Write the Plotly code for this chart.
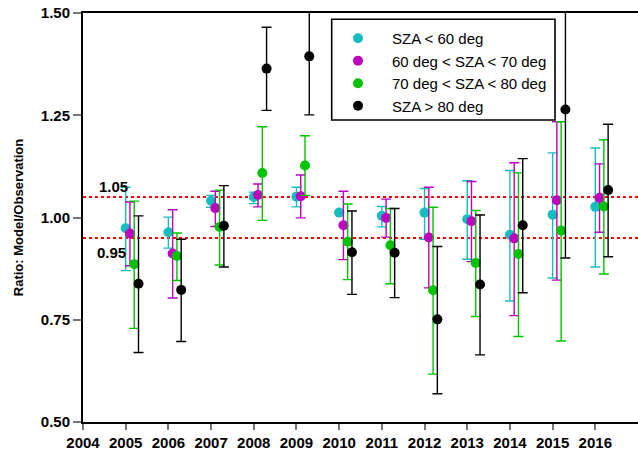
import plotly.graph_objects as go

years = [2005, 2006, 2007, 2008, 2009, 2010, 2011, 2012, 2013, 2014, 2015, 2016]
x_ticks = [2004, 2005, 2006, 2007, 2008, 2009, 2010, 2011, 2012, 2013, 2014, 2015, 2016]
y_ticks = [0.50, 0.75, 1.00, 1.25, 1.50]
y_tick_labels = ["0.50", "0.75", "1.00", "1.25", "1.50"]
ref_levels = [1.05, 0.95]
ref_labels = ["1.05", "0.95"]

names = ["SZA < 60 deg", "60 deg < SZA < 70 deg", "70 deg < SZA < 80 deg", "SZA > 80 deg"]
colors = ["#14BEBE", "#C000C0", "#00C400", "#000000"]
offsets = [0.0, 0.1, 0.2, 0.3]

cyan_val = [0.974, 0.964, 1.041, 1.050, 1.051, 1.012, 1.004, 1.012, 0.996, 0.958, 1.007, 1.026]
cyan_hi = [1.074, 1.001, 1.054, 1.062, 1.074, 1.012, 1.027, 1.071, 1.090, 1.115, 1.158, 1.170]
cyan_lo = [0.870, 0.925, 1.025, 1.034, 1.026, 1.012, 0.977, 0.947, 0.898, 0.796, 0.852, 0.879]

magenta_val = [0.961, 0.912, 1.023, 1.055, 1.052, 0.981, 0.999, 0.951, 0.991, 0.949, 1.042, 1.048]
magenta_hi = [1.038, 1.019, 1.064, 1.082, 1.104, 1.064, 1.045, 1.074, 1.088, 1.134, 1.234, 1.131]
magenta_lo = [0.882, 0.803, 0.978, 1.026, 0.999, 0.897, 0.952, 0.828, 0.892, 0.760, 0.847, 0.964]

green_val = [0.886, 0.906, 0.977, 1.109, 1.127, 0.941, 0.932, 0.822, 0.889, 0.911, 0.968, 1.027]
green_hi = [1.040, 0.962, 1.067, 1.222, 1.200, 1.033, 1.022, 1.025, 1.017, 1.109, 1.234, 1.190]
green_lo = [0.729, 0.846, 0.884, 0.993, 1.054, 0.848, 0.838, 0.617, 0.758, 0.709, 0.698, 0.862]

black_val = [0.838, 0.823, 0.980, 1.364, 1.394, 0.915, 0.914, 0.751, 0.836, 0.981, 1.264, 1.067]
black_hi = [1.004, 0.947, 1.078, 1.465, 1.537, 1.016, 1.022, 0.929, 1.006, 1.144, 1.627, 1.228]
black_lo = [0.670, 0.697, 0.879, 1.262, 1.251, 0.812, 0.804, 0.569, 0.664, 0.816, 0.901, 0.904]

series = [
    (cyan_val, cyan_hi, cyan_lo),
    (magenta_val, magenta_hi, magenta_lo),
    (green_val, green_hi, green_lo),
    (black_val, black_hi, black_lo),
]

FONT = "Liberation Sans, Arial, sans-serif"

fig = go.Figure()
for (val, hi, lo), name, col, off in zip(series, names, colors, offsets):
    fig.add_trace(go.Scatter(
        x=[y + off for y in years],
        y=val,
        mode="markers",
        name=name,
        marker=dict(color=col, size=10, line=dict(width=0)),
        error_y=dict(
            type="data", symmetric=False,
            array=[h - v for h, v in zip(hi, val)],
            arrayminus=[v - l for v, l in zip(val, lo)],
            color=col, thickness=1.4, width=5,
        ),
    ))

shapes = []
for lev in ref_levels:
    shapes.append(dict(type="line", xref="paper", x0=0, x1=1, yref="y", y0=lev, y1=lev,
                       line=dict(color="#FF0000", width=2, dash="dot"), layer="below"))
# legend frame
shapes.append(dict(type="rect", xref="paper", yref="paper",
                   x0=(331.7 - 83) / 555, x1=(555 - 83) / 555,
                   y0=1 - (120 - 13) / 409, y1=1 - (19.3 - 13) / 409,
                   line=dict(color="black", width=1.6), fillcolor="white", layer="above"))

annotations = [
    dict(x=(97 - 83) / 555, xref="paper", y=ref_levels[0], yref="y", text="<b>" + ref_labels[0] + "</b>",
         showarrow=False, xanchor="left", yanchor="middle", yshift=11,
         font=dict(family=FONT, size=15, color="black")),
    dict(x=(95 - 83) / 555, xref="paper", y=ref_levels[1], yref="y", text="<b>" + ref_labels[1] + "</b>",
         showarrow=False, xanchor="left", yanchor="middle", yshift=-15,
         font=dict(family=FONT, size=15, color="black")),
]

fig.update_layout(
    width=638, height=463,
    margin=dict(l=83, r=0, t=13, b=41),
    paper_bgcolor="white", plot_bgcolor="white",
    font=dict(family=FONT, color="black"),
    shapes=shapes,
    annotations=annotations,
    showlegend=True,
    legend=dict(
        x=(324 - 83) / 555, y=1 - (22 - 13) / 409, xanchor="left", yanchor="top",
        bgcolor="rgba(0,0,0,0)", borderwidth=0,
        font=dict(family=FONT, size=15, color="black"),
        itemwidth=58, tracegroupgap=0,
    ),
    xaxis=dict(
        range=[2004, 2017], tickmode="array", tickvals=x_ticks,
        ticktext=["<b>%d</b>" % t for t in x_ticks],
        tickfont=dict(family=FONT, size=15, color="black"),
        ticks="outside", ticklen=6, tickwidth=1.5, tickcolor="#777777",
        showline=True, linecolor="black", linewidth=2, mirror=True,
        showgrid=False, zeroline=False,
    ),
    yaxis=dict(
        range=[0.5, 1.5], tickmode="array", tickvals=y_ticks,
        ticktext=["<b>%s</b>" % t for t in y_tick_labels],
        tickfont=dict(family=FONT, size=15, color="black"),
        ticks="outside", ticklen=8, tickwidth=1.5, tickcolor="#777777",
        showline=True, linecolor="black", linewidth=2,
        showgrid=False, zeroline=False,
        title=dict(text="<b>Ratio: Model/Observation</b>", font=dict(family=FONT, size=13), standoff=14),
    ),
)

fig.write_html("out.html")
